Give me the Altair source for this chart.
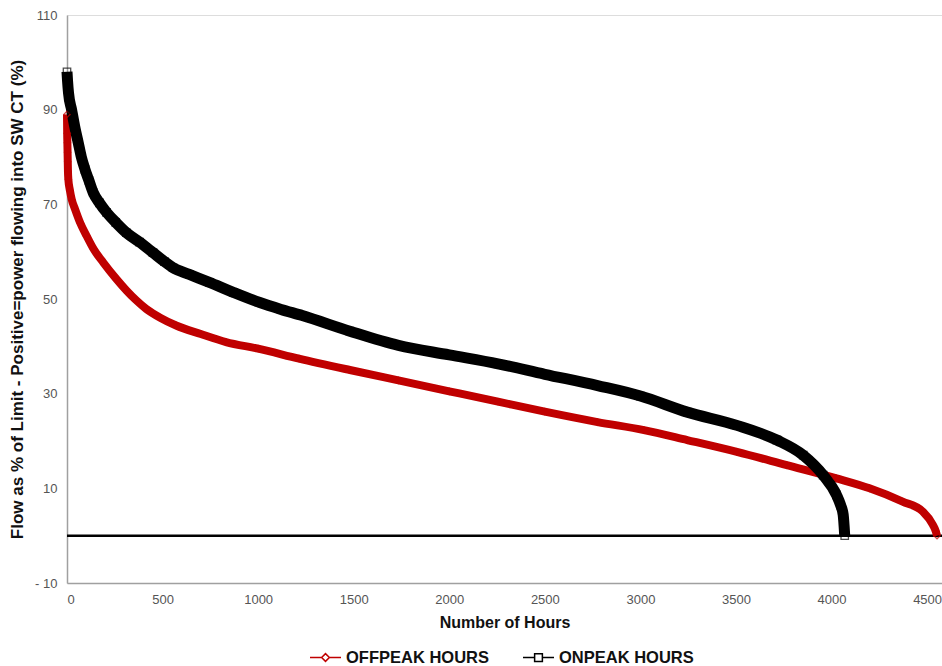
import altair as alt
import pandas as pd

# ONPEAK HOURS (black squares)
on_hours = [0, 3, 8, 24, 40, 59, 75, 94, 115, 137, 170, 207, 255, 311, 380, 450, 510, 555,
            640, 745, 870, 1005, 1120, 1231, 1480, 1734, 2000, 2255, 2500, 2776, 3000, 3245,
            3505, 3714, 3852, 3956, 4026, 4048, 4061, 4069]
on_vals = [98, 96, 93.5, 90, 86.5, 83, 80, 77.4, 75, 72.5, 70.3, 68.3, 66.2, 64, 62, 59.8, 57.9, 56.6,
           55.2, 53.5, 51.4, 49.3, 47.8, 46.5, 43.2, 40.2, 38.2, 36.3, 34.1, 31.7, 29.5, 26.1,
           23.3, 20.2, 17.0, 12.8, 8.6, 6.4, 4.4, 0]

# OFFPEAK HOURS (red diamonds)
off_hours = [0, 1, 2, 3, 4, 5, 7, 15, 25, 42, 70, 103, 140, 190, 259, 311, 360, 415, 490, 571,
             700, 832, 1000, 1214, 1480, 1734, 2000, 2255, 2500, 2776, 3019, 3245, 3505, 3766,
             4026, 4199, 4372, 4477, 4530, 4545, 4552]
off_vals = [89, 85, 83, 81, 79, 77, 75.3, 73, 71, 69, 66, 63.3, 60.5, 57.7, 54.2, 51.8, 49.8, 47.9, 46, 44.4,
            42.6, 40.9, 39.5, 37.4, 35, 32.8, 30.5, 28.3, 26.2, 24.0, 22.3, 20.2, 17.7, 14.9,
            12.1, 10, 7.2, 5.1, 2.3, 1.0, 0]

series_names = ["OFFPEAK HOURS", "ONPEAK HOURS"]
series_colors = ["#C00000", "#000000"]
y_ticks = [-10, 10, 30, 50, 70, 90, 110]
x_ticks = [0, 500, 1000, 1500, 2000, 2500, 3000, 3500, 4000, 4500]

rows = []
for i, (h, v) in enumerate(zip(off_hours, off_vals)):
    rows.append({"series": series_names[0], "hours": h, "value": v, "order": i})
for i, (h, v) in enumerate(zip(on_hours, on_vals)):
    rows.append({"series": series_names[1], "hours": h, "value": v, "order": i})
df = pd.DataFrame(rows)

FONT = "Liberation Sans"

x_scale = alt.Scale(domain=[0, 4578], nice=False, zero=False)
y_scale = alt.Scale(domain=[-10, 110], nice=False, zero=False)

x_enc = alt.X("hours:Q", scale=x_scale,
              axis=alt.Axis(values=x_ticks, format="d", title="Number of Hours", grid=False,
                            ticks=False, labelFont=FONT, labelFontSize=13, labelColor="#555555",
                            labelPadding=10, titleFont=FONT, titleFontSize=16,
                            titleFontWeight="bold", titleColor="#111111", titlePadding=8,
                            domainColor="#a0a0a0", domainWidth=1.5, labelOverlap=False))
y_enc = alt.Y("value:Q", scale=y_scale,
              axis=alt.Axis(values=y_ticks,
                            labelExpr="datum.value < 0 ? '- ' + abs(datum.value) : datum.label",
                            title="Flow as % of Limit - Positive=power flowing into SW CT (%)",
                            grid=False, ticks=False, labelFont=FONT, labelFontSize=13,
                            labelColor="#555555", labelPadding=10, titleFont=FONT,
                            titleFontSize=17, titleFontWeight="bold", titleColor="#111111",
                            titlePadding=8, domainColor="#a0a0a0", domainWidth=1.5))

base = alt.Chart(df)

zero_line = alt.Chart(pd.DataFrame({"y": [0]})).mark_rule(color="#000000", strokeWidth=2.5).encode(
    y=alt.Y("y:Q", scale=y_scale)
)

off_line = base.transform_filter(alt.datum.series == series_names[0]).mark_line(
    strokeCap="butt", strokeJoin="round", color=series_colors[0], strokeWidth=8,
    interpolate="monotone"
).encode(x=x_enc, y=y_enc, order="order:Q")

on_line = base.transform_filter(alt.datum.series == series_names[1]).mark_line(
    strokeCap="butt", strokeJoin="round", color=series_colors[1], strokeWidth=11,
    interpolate="monotone"
).encode(x="hours:Q", y="value:Q", order="order:Q")

off_markers = base.transform_filter(alt.datum.series == series_names[0]).mark_point(
    filled=False, strokeWidth=1.3, size=40, shape="diamond", color=series_colors[0]
).encode(x="hours:Q", y="value:Q")

on_markers = base.transform_filter(alt.datum.series == series_names[1]).mark_point(
    filled=False, strokeWidth=1.3, size=55, shape="square", color=series_colors[1]
).encode(x="hours:Q", y="value:Q")

legend_paths = [
    "M-1,0H-0.25M0.25,0H1M-0.25,0L0,-0.25L0.25,0L0,0.25Z",
    "M-1,0H-0.25M0.25,0H1M-0.25,-0.25H0.25V0.25H-0.25Z",
]
leg = alt.Legend(title=None, orient="none", direction="horizontal", legendX=242, legendY=626,
                 symbolSize=961, symbolStrokeWidth=1.5, symbolOpacity=1,
                 symbolFillColor="white",
                 labelFont=FONT, labelFontSize=16.5, labelFontWeight="bold",
                 labelColor="#111111", columnPadding=30, labelOffset=4)
legend_layer = base.mark_point(filled=False, opacity=0, strokeWidth=1.5).encode(
    x="hours:Q", y="value:Q",
    color=alt.Color("series:N", scale=alt.Scale(domain=series_names, range=series_colors),
                    legend=leg),
    shape=alt.Shape("series:N", scale=alt.Scale(domain=series_names, range=legend_paths),
                    legend=leg),
)

chart = alt.layer(zero_line, off_line, on_line, off_markers, on_markers, legend_layer).properties(
    width=875, height=568,
    autosize=alt.AutoSizeParams(type="none"),
    padding={"left": 67, "top": 15, "right": 0, "bottom": 83},
).configure_view(stroke="#a0a0a0", strokeWidth=1.5).configure(background="white")

chart.save("out.html", embed_options={"renderer": "svg", "actions": False})
